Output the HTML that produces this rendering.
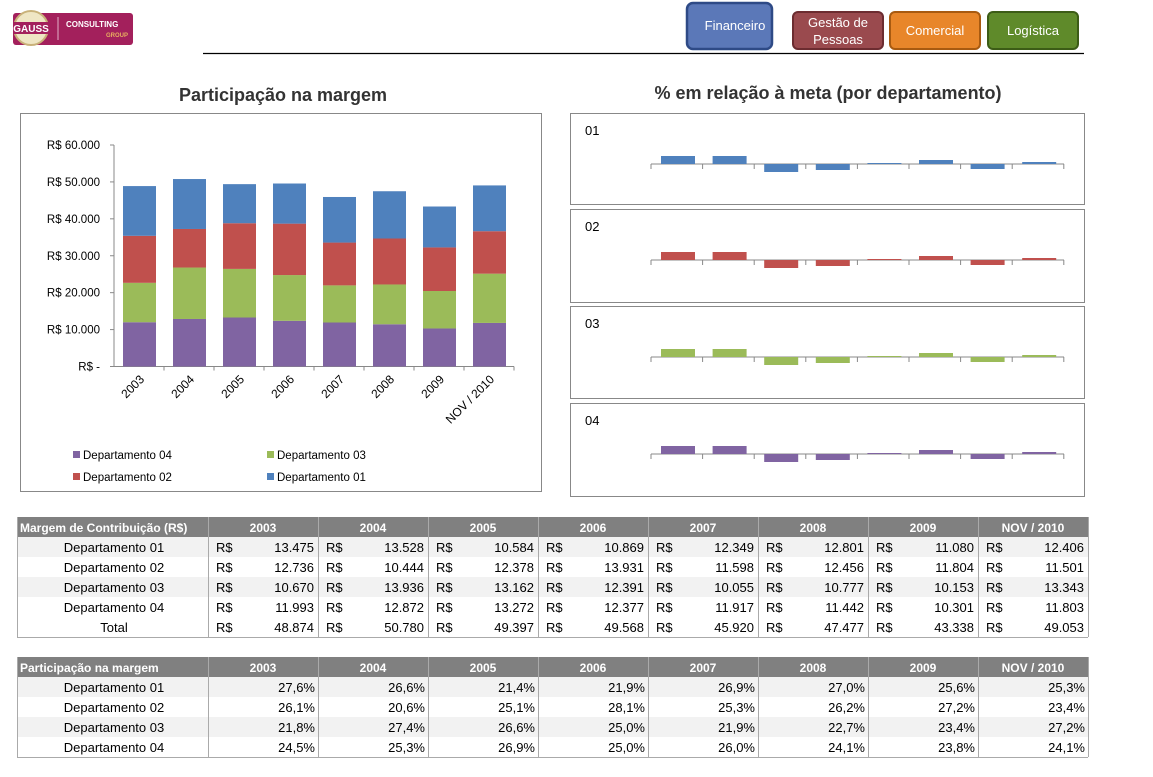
<!DOCTYPE html>
<html><head><meta charset="utf-8"><style>
body{margin:0;background:#fff;width:1153px;height:777px;overflow:hidden;font-family:"Liberation Sans",sans-serif}
svg{position:absolute;left:0;top:0}
</style></head><body>
<svg id="s" width="1153" height="777" xmlns="http://www.w3.org/2000/svg" font-family="Liberation Sans, sans-serif">
<rect x="13" y="13" width="120" height="32" rx="3" fill="#a3205c"/>
<circle cx="31" cy="28" r="17" fill="#efe6c4" stroke="#c9b27a" stroke-width="2"/>
<rect x="13" y="22" width="36" height="12" fill="#a3205c"/>
<text x="31" y="32" font-size="10" font-weight="bold" fill="#fff" text-anchor="middle">GAUSS</text>
<line x1="58" y1="17" x2="58" y2="40" stroke="#e0b0c8"/>
<text x="66" y="27" font-size="8" font-weight="bold" fill="#fff">CONSULTING</text>
<text x="128" y="37" font-size="6" font-weight="bold" fill="#e8b060" text-anchor="end">GROUP</text>
<rect x="687" y="3" width="85" height="46" rx="6" fill="#5b78b8" stroke="#2e4a86" stroke-width="2.5"/>
<text x="735" y="30" font-size="13" fill="#fff" text-anchor="middle">Financeiro</text>
<rect x="793" y="12" width="90" height="37" rx="5" fill="#9a4a4e" stroke="#6c2c30" stroke-width="2"/>
<text x="838" y="27" font-size="13" fill="#fff" text-anchor="middle">Gestão de</text>
<text x="838" y="44" font-size="13" fill="#fff" text-anchor="middle">Pessoas</text>
<rect x="890" y="12" width="90" height="37" rx="5" fill="#e8862a" stroke="#a85a10" stroke-width="2"/>
<text x="935" y="35" font-size="13" fill="#fff" text-anchor="middle">Comercial</text>
<rect x="988" y="12" width="90" height="37" rx="5" fill="#5f8a2a" stroke="#3c5c16" stroke-width="2"/>
<text x="1033" y="35" font-size="13" fill="#fff" text-anchor="middle">Logística</text>
<line x1="203" y1="53.5" x2="1084" y2="53.5" stroke="#000" stroke-width="1.2"/>
<text x="283" y="101" font-size="18" font-weight="bold" fill="#333" text-anchor="middle">Participação na margem</text>
<text x="828" y="99" font-size="18" font-weight="bold" fill="#333" text-anchor="middle">% em relação à meta (por departamento)</text>
<rect x="20.5" y="113.5" width="521" height="378" fill="#fff" stroke="#888"/>
<g id="g"></g>
</svg>
<script>
var g=document.getElementById('g'),h='';
var yrs=['2003','2004','2005','2006','2007','2008','2009','NOV / 2010'];
var d1=[13475,13528,10584,10869,12349,12801,11080,12406],
d2=[12736,10444,12378,13931,11598,12456,11804,11501],
d3=[10670,13936,13162,12391,10055,10777,10153,13343],
d4=[11993,12872,13272,12377,11917,11442,10301,11803],
tot=[48874,50780,49397,49568,45920,47477,43338,49053];
var C=['#4f81bd','#c0504d','#9bbb59','#8064a2'];
var x0=114,y0=366.5,k=221.5/60000;
for(var i=0;i<=6;i++){var y=y0-i*10000*k;h+='<line x1="110" x2="114" y1="'+y+'" y2="'+y+'" stroke="#888"/>';
h+='<text x="100" y="'+(y+4)+'" font-size="11.5" fill="#000" text-anchor="end">'+(i?'R$ '+(i*10)+'.000':'R$ -')+'</text>';}
h+='<line x1="114" x2="114" y1="145" y2="'+y0+'" stroke="#888"/><line x1="114" x2="514" y1="'+y0+'" y2="'+y0+'" stroke="#888"/>';
for(var j=0;j<8;j++){var bx=x0+9+j*50,base=y0;
[[d4,3],[d3,2],[d2,1],[d1,0]].forEach(function(p){var hh=p[0][j]*k;h+='<rect x="'+bx+'" y="'+(base-hh)+'" width="33" height="'+hh+'" fill="'+C[p[1]]+'"/>';base-=hh;});
h+='<line x1="'+(x0+j*50+50)+'" x2="'+(x0+j*50+50)+'" y1="'+y0+'" y2="'+(y0+4)+'" stroke="#888"/>';
var cx=bx+22;h+='<text transform="translate('+cx+',380) rotate(-45)" font-size="12" text-anchor="end">'+yrs[j]+'</text>';}
var L=[[73,455,3,'Departamento 04'],[267,455,2,'Departamento 03'],[73,477,1,'Departamento 02'],[267,477,0,'Departamento 01']];
L.forEach(function(l){h+='<rect x="'+l[0]+'" y="'+(l[1]-4)+'" width="7" height="7" fill="'+C[l[2]]+'"/><text x="'+(l[0]+10)+'" y="'+(l[1]+4)+'" font-size="11.5">'+l[3]+'</text>';});
var tops=[113,209,306,403],hs=[91,93,92,93],vals=[8,8,-8,-6,1,4,-5,2];
for(var c=0;c<4;c++){var t=tops[c];h+='<rect x="570.5" y="'+(t+.5)+'" width="514" height="'+hs[c]+'" fill="#fff" stroke="#888"/>';
h+='<text x="585" y="'+(t+22)+'" font-size="13">0'+(c+1)+'</text>';var ay=t+51;
h+='<line x1="651" x2="1064" y1="'+ay+'" y2="'+ay+'" stroke="#888"/>';
for(var j=0;j<=8;j++){var tx=651+j*51.6;h+='<line x1="'+tx+'" x2="'+tx+'" y1="'+ay+'" y2="'+(ay+5)+'" stroke="#888"/>';}
for(var j=0;j<8;j++){var v=vals[j],bx=661+j*51.6;h+='<rect x="'+bx+'" y="'+(v>0?ay-v:ay)+'" width="34" height="'+Math.abs(v)+'" fill="'+C[c]+'"/>';}}
function fmt(n){return String(n).replace(/(\d+)(\d{3})$/,'$1.$2');}
var cols=[17,208,318,428,538,648,758,868,978,1088];
function table(ty,title,rows,money){
h+='<rect x="17" y="'+ty+'" width="1071" height="20" fill="#808080"/>';
h+='<text x="20" y="'+(ty+15)+'" font-size="12" font-weight="bold" fill="#fff">'+title+'</text>';
for(var j=0;j<8;j++)h+='<text x="'+(cols[j+1]+55)+'" y="'+(ty+15)+'" font-size="12" font-weight="bold" fill="#fff" text-anchor="middle">'+yrs[j]+'</text>';
rows.forEach(function(r,i){var y=ty+20+i*20;h+='<rect x="17" y="'+y+'" width="1071" height="20" fill="'+(i%2==0&&i<4?'#f2f2f2':'#fff')+'"/>';
h+='<text x="114" y="'+(y+15)+'" font-size="13" text-anchor="middle">'+r[0]+'</text>';
for(var j=0;j<8;j++){if(money)h+='<text x="'+(cols[j+1]+8)+'" y="'+(y+15)+'" font-size="13">R$</text><text x="'+(cols[j+1]+106)+'" y="'+(y+15)+'" font-size="13" text-anchor="end">'+fmt(r[1][j])+'</text>';
else h+='<text x="'+(cols[j+1]+107)+'" y="'+(y+15)+'" font-size="13" text-anchor="end">'+r[1][j]+'</text>';}
h+='<line x1="17" x2="1088" y1="'+(y+20.5)+'" y2="'+(y+20.5)+'" stroke="#aaa"/>';});
var bot=ty+20+rows.length*20;
cols.forEach(function(x){h+='<line x1="'+(x+.5)+'" x2="'+(x+.5)+'" y1="'+ty+'" y2="'+bot+'" stroke="#aaa"/>';});
}
table(517,'Margem de Contribuição (R$)',[['Departamento 01',d1],['Departamento 02',d2],['Departamento 03',d3],['Departamento 04',d4],['Total',tot]],true);
var p=[['27,6%','26,6%','21,4%','21,9%','26,9%','27,0%','25,6%','25,3%'],['26,1%','20,6%','25,1%','28,1%','25,3%','26,2%','27,2%','23,4%'],['21,8%','27,4%','26,6%','25,0%','21,9%','22,7%','23,4%','27,2%'],['24,5%','25,3%','26,9%','25,0%','26,0%','24,1%','23,8%','24,1%']];
table(657,'Participação na margem',p.map(function(r,i){return ['Departamento 0'+(i+1),r];}),false);
g.innerHTML=h;
</script>
</body></html>
